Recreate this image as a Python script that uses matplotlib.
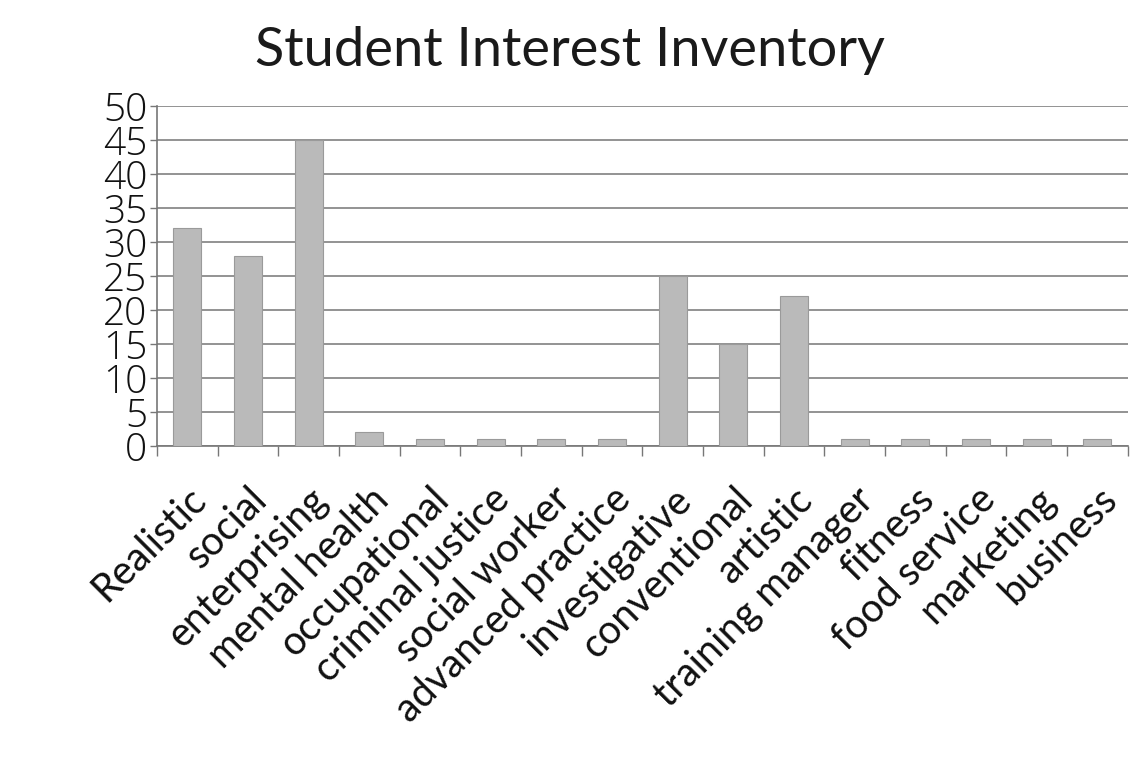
import matplotlib
matplotlib.use("Agg")
import matplotlib.pyplot as plt
import numpy as np

categories = ["Realistic", "social", "enterprising", "mental health", "occupational",
              "criminal justice", "social worker", "advanced practice", "investigative",
              "conventional", "artistic", "training manager", "fitness", "food service",
              "marketing", "business"]
counts = [32, 28, 45, 2, 1, 1, 1, 1, 25, 15, 22, 1, 1, 1, 1, 1]
y_ticks = [0, 5, 10, 15, 20, 25, 30, 35, 40, 45, 50]

fig = plt.figure(figsize=(11.46, 7.74), dpi=100)
ax = fig.add_axes([0.137, 0.424, 0.847, 0.439])

x = np.arange(len(categories))
ax.bar(x, counts, width=0.46, color="#bababa", edgecolor="#9a9a9a", linewidth=0.8, zorder=3)

ax.set_xlim(-0.5, len(categories) - 0.5)
ax.set_ylim(0, 50)
ax.set_yticks(y_ticks)
ax.set_yticklabels([str(v) for v in y_ticks], fontsize=28, family="Open Sans",
                   fontweight="light", color="#111111")
ax.tick_params(axis="y", length=5, width=1, color="#777777", pad=2)
ax.yaxis.grid(True, color="#808080", linewidth=1.2, zorder=0)

ax.set_xticks(x)
ax.set_xticklabels(categories, rotation=45, ha="right", rotation_mode="anchor",
                   fontsize=28.5, family="Lato", color="#111111")
ax.tick_params(axis="x", which="major", length=0, pad=25)
ax.set_xticks(np.arange(-0.5, len(categories)), minor=True)
ax.tick_params(axis="x", which="minor", length=7, width=1, color="#777777")

for side in ["top", "right"]:
    ax.spines[side].set_visible(False)
for side in ["left", "bottom"]:
    ax.spines[side].set_color("#777777")
    ax.spines[side].set_linewidth(1.2)

fig.text(0.497, 0.915, "Student Interest Inventory", ha="center", va="baseline",
         fontsize=39, family="Lato", color="#1a1a1a")

fig.savefig("out.png", dpi=100)
